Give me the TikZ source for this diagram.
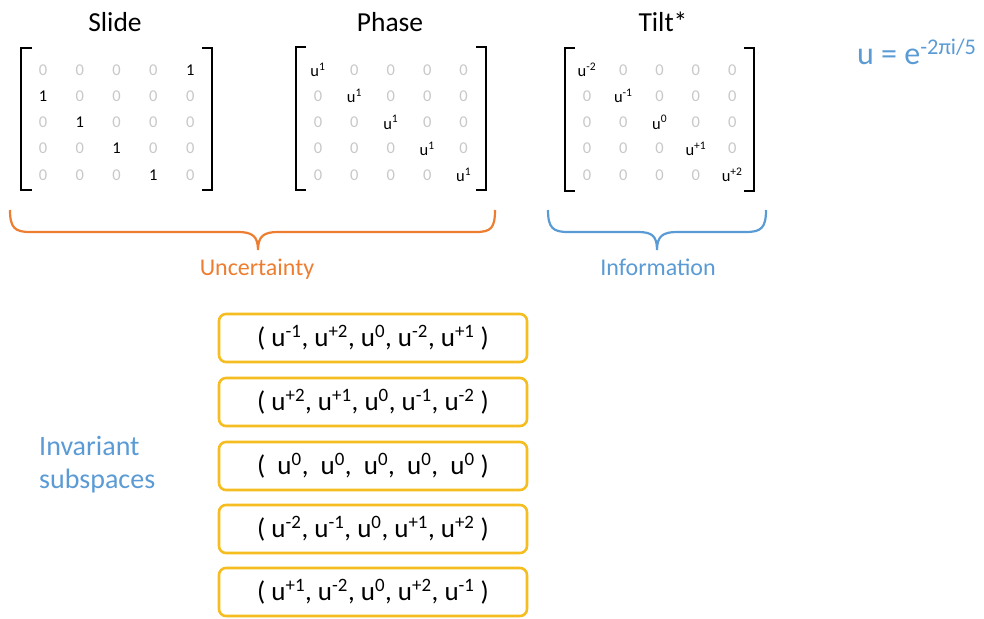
\documentclass[tikz,border=0pt]{standalone}
\usepackage{fontspec}
\setmainfont{Carlito}
\definecolor{zgray}{HTML}{C8C8C8}
\definecolor{uorange}{HTML}{ED7D31}
\definecolor{iblue}{HTML}{5B9BD5}
\definecolor{ybox}{HTML}{F5BD1F}
\begin{document}
\begin{tikzpicture}[x=1pt,y=-1pt,
  title/.style={font=\fontsize{27.5}{32}\selectfont, text=black, anchor=base, inner sep=0pt},
  ent/.style={font=\fontsize{16.5}{20}\selectfont, inner sep=0pt},
  zero/.style={ent, text=zgray},
  one/.style={ent, text=black},
  brk/.style={line width=2.4pt, black},
  vecbox/.style={draw=ybox, line width=2.6pt, rounded corners=7pt, minimum width=308pt, minimum height=48pt, font=\fontsize{27}{32}\selectfont},
  bracelbl/.style={font=\fontsize{24}{28}\selectfont, anchor=base, inner sep=0pt},
  bracepath/.style={line width=2.2pt}
]
\useasboundingbox (0,0) rectangle (984,618);

% titles
\node[title] (tslide) at (115,32) {Slide};
\node[title] (tphase) at (390,32) {Phase};
\node[title] (ttilt) at (663,32) {Tilt*};

% Slide matrix
\foreach \r in {1,...,5}{\foreach \c in {1,...,5}{
  \pgfmathtruncatemacro\k{mod(\r+3,5)+1}
  \ifnum\c=\k
    \node[one] (s\r\c) at ({43+(\c-1)*36.8},{70+(\r-1)*26.2}) {1};
  \else
    \node[zero] (s\r\c) at ({43+(\c-1)*36.8},{70+(\r-1)*26.2}) {0};
  \fi
}}
\draw[brk] (32,48) -- (21,48) -- (21,190) -- (32,190);
\draw[brk] (202,48) -- (212,48) -- (212,190) -- (202,190);

% Phase matrix
\foreach \r in {1,...,5}{\foreach \c in {1,...,5}{
  \ifnum\c=\r
    \node[one] (p\r\c) at ({318+(\c-1)*36.4},{70+(\r-1)*26.2}) {u\textsuperscript{1}};
  \else
    \node[zero] (p\r\c) at ({318+(\c-1)*36.4},{70+(\r-1)*26.2}) {0};
  \fi
}}
\draw[brk] (306,47) -- (296,47) -- (296,190) -- (306,190);
\draw[brk] (476,47) -- (486,47) -- (486,190) -- (476,190);

% Tilt matrix
\foreach \r in {1,...,5}{\foreach \c in {1,...,5}{
  \ifnum\c=\r\else
    \node[zero] (t\r\c) at ({587+(\c-1)*36.3},{70+(\r-1)*26.2}) {0};
  \fi
}}
\foreach \l [count=\i] in {-2,-1,0,+1,+2}{
  \node[one] (t\i\i) at ({587+(\i-1)*36.3},{70+(\i-1)*26.2}) {u\textsuperscript{\l}};
}
\draw[brk] (575,48) -- (565,48) -- (565,191) -- (575,191);
\draw[brk] (744,48) -- (754,48) -- (754,191) -- (744,191);

% u definition
\node[font=\fontsize{32}{38}\selectfont, text=iblue, anchor=base west, inner sep=0pt] (udef) at (857,64) {u = e\textsuperscript{-2πi/5}};

% braces
\draw[uorange, bracepath] (10,210) .. controls (10,228) and (15,232) .. (30,232) -- (238,232)
  .. controls (252,232) and (258,236) .. (258,250)
  .. controls (258,236) and (264,232) .. (278,232) -- (476,232)
  .. controls (491,232) and (495,228) .. (495,210);
\node[bracelbl, text=uorange] (lunc) at (257,275) {Uncertainty};

\draw[iblue, bracepath] (548,210) .. controls (548,228) and (553,232) .. (568,232) -- (638,232)
  .. controls (652,232) and (657,236) .. (657,250)
  .. controls (657,236) and (663,232) .. (677,232) -- (746,232)
  .. controls (761,232) and (766,228) .. (766,210);
\node[bracelbl, text=iblue] (linf) at (658,275) {Information};

% invariant subspaces
\node[font=\fontsize{28}{33}\selectfont, text=iblue, align=left, anchor=west, inner sep=0pt] (inv) at (39,465) {Invariant\\subspaces};

% vectors
\node[vecbox] (v1) at (373,338) {( u\textsuperscript{-1}, u\textsuperscript{+2}, u\textsuperscript{0}, u\textsuperscript{-2}, u\textsuperscript{+1} )};
\node[vecbox] (v2) at (373,402) {( u\textsuperscript{+2}, u\textsuperscript{+1}, u\textsuperscript{0}, u\textsuperscript{-1}, u\textsuperscript{-2} )};
\node[vecbox] (v3) at (373,466) {(\ \ u\textsuperscript{0},\ \ u\textsuperscript{0},\ \ u\textsuperscript{0},\ \ u\textsuperscript{0},\ \ u\textsuperscript{0} )};
\node[vecbox] (v4) at (373,529) {( u\textsuperscript{-2}, u\textsuperscript{-1}, u\textsuperscript{0}, u\textsuperscript{+1}, u\textsuperscript{+2} )};
\node[vecbox] (v5) at (373,592) {( u\textsuperscript{+1}, u\textsuperscript{-2}, u\textsuperscript{0}, u\textsuperscript{+2}, u\textsuperscript{-1} )};
\end{tikzpicture}
\end{document}
